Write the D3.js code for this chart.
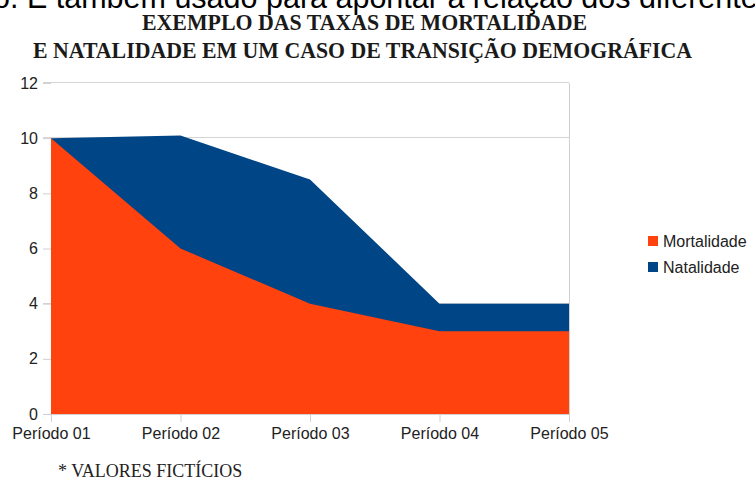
<!DOCTYPE html>
<html>
<head>
<meta charset="utf-8">
<script src="https://cdn.jsdelivr.net/npm/d3@7"></script>
<style>
  body { margin: 0; background: #fff; }
  svg { display: block; }
</style>
</head>
<body>
<svg id="chart" width="755" height="480"></svg>
<script>
var periods = ["Período 01", "Período 02", "Período 03", "Período 04", "Período 05"];
var mortalidade = [10, 6, 4, 3, 3];
var natalidade = [10, 10.1, 8.5, 4, 4];
var yTicks = [0, 2, 4, 6, 8, 10, 12];
var gridValues = [4, 10, 12];
var seriesNames = ["Mortalidade", "Natalidade"];
var seriesColors = ["#FF420E", "#004586"];

var svg = d3.select("#chart");

var plotLeft = 51, plotRight = 569, plotTop = 83, plotBottom = 414;

var x = d3.scalePoint().domain(periods).range([plotLeft, plotRight]);
var y = d3.scaleLinear().domain([0, 12]).range([plotBottom, plotTop]);

// cut off line of body text above the chart
svg.append("text")
  .attr("x", -7)
  .attr("y", 8)
  .style("font-family", "'Liberation Sans', Arial, sans-serif")
  .style("font-size", "30.5px")
  .style("fill", "#000")
  .text("o. É também usado para apontar a relação dos diferentes");

// title
var titleLines = ["EXEMPLO DAS TAXAS DE MORTALIDADE", "E NATALIDADE EM UM CASO DE TRANSIÇÃO DEMOGRÁFICA"];
var titleWidths = [445, 659];
svg.selectAll(".title")
  .data(titleLines)
  .enter()
  .append("text")
  .attr("class", "title")
  .attr("x", function (d, i) { return i == 0 ? 142 : 33; })
  .attr("y", function (d, i) { return i == 0 ? 30 : 58; })
  .attr("textLength", function (d, i) { return titleWidths[i]; })
  .attr("lengthAdjust", "spacingAndGlyphs")
  .style("font-family", "'Liberation Serif', 'Times New Roman', serif")
  .style("font-weight", "bold")
  .style("font-size", "24px")
  .style("fill", "#1a1a1a")
  .text(function (d) { return d; });

// grid lines
svg.append("g")
  .selectAll("line")
  .data(gridValues)
  .enter()
  .append("line")
  .attr("x1", plotLeft - 8)
  .attr("x2", plotRight)
  .attr("y1", function (d) { return Math.round(y(d)) - 0.5; })
  .attr("y2", function (d) { return Math.round(y(d)) - 0.5; })
  .style("stroke", "#d4d4d4")
  .style("stroke-width", 1);

// areas: natalidade behind, mortalidade in front
var area = function (vals) {
  return d3.area()
    .x(function (d, i) { return x(periods[i]); })
    .y0(y(0))
    .y1(function (d) { return y(d); })(vals);
};

svg.append("path")
  .attr("d", area(natalidade))
  .style("fill", seriesColors[1]);

svg.append("path")
  .attr("d", area(mortalidade))
  .style("fill", seriesColors[0]);

// right border
svg.append("line")
  .attr("x1", plotRight + 0.5).attr("x2", plotRight + 0.5)
  .attr("y1", y(12)).attr("y2", y(0))
  .style("stroke", "#d0d0d0");

// x axis
var xAxis = svg.append("g")
  .attr("transform", "translate(0," + plotBottom + ")")
  .call(d3.axisBottom(x).tickSize(8).tickSizeOuter(0).tickPadding(6));
xAxis.select(".domain").attr("d", "M" + (plotLeft - 8) + ",0.5H" + plotRight).style("stroke", "#d0d0d0");
xAxis.selectAll(".tick line").style("stroke", "#d0d0d0");
xAxis.selectAll(".tick text")
  .style("font-family", "'Liberation Sans', Arial, sans-serif")
  .style("font-size", "16px")
  .style("fill", "#222");

// y axis
var yAxis = svg.append("g")
  .attr("transform", "translate(" + plotLeft + ",0)")
  .call(d3.axisLeft(y).tickValues(yTicks).tickSize(8).tickPadding(5));
yAxis.select(".domain").remove();
yAxis.selectAll(".tick line").style("stroke", "#d0d0d0");
yAxis.selectAll(".tick text")
  .style("font-family", "'Liberation Sans', Arial, sans-serif")
  .style("font-size", "16px")
  .style("fill", "#222");

// legend
var legend = svg.append("g")
  .selectAll("g")
  .data(seriesNames)
  .enter()
  .append("g")
  .attr("transform", function (d, i) { return "translate(648," + (236 + i * 26) + ")"; });

legend.append("rect")
  .attr("width", 10)
  .attr("height", 10)
  .style("fill", function (d, i) { return seriesColors[i]; });

legend.append("text")
  .attr("x", 15)
  .attr("y", 5)
  .attr("dy", "0.35em")
  .style("font-family", "'Liberation Sans', Arial, sans-serif")
  .style("font-size", "16px")
  .style("fill", "#222")
  .text(function (d) { return d; });

// footnote
svg.append("text")
  .attr("x", 58)
  .attr("y", 477)
  .style("font-family", "'Liberation Serif', 'Times New Roman', serif")
  .style("font-size", "18px")
  .style("fill", "#222")
  .text("* VALORES FICTÍCIOS");
</script>
</body>
</html>
